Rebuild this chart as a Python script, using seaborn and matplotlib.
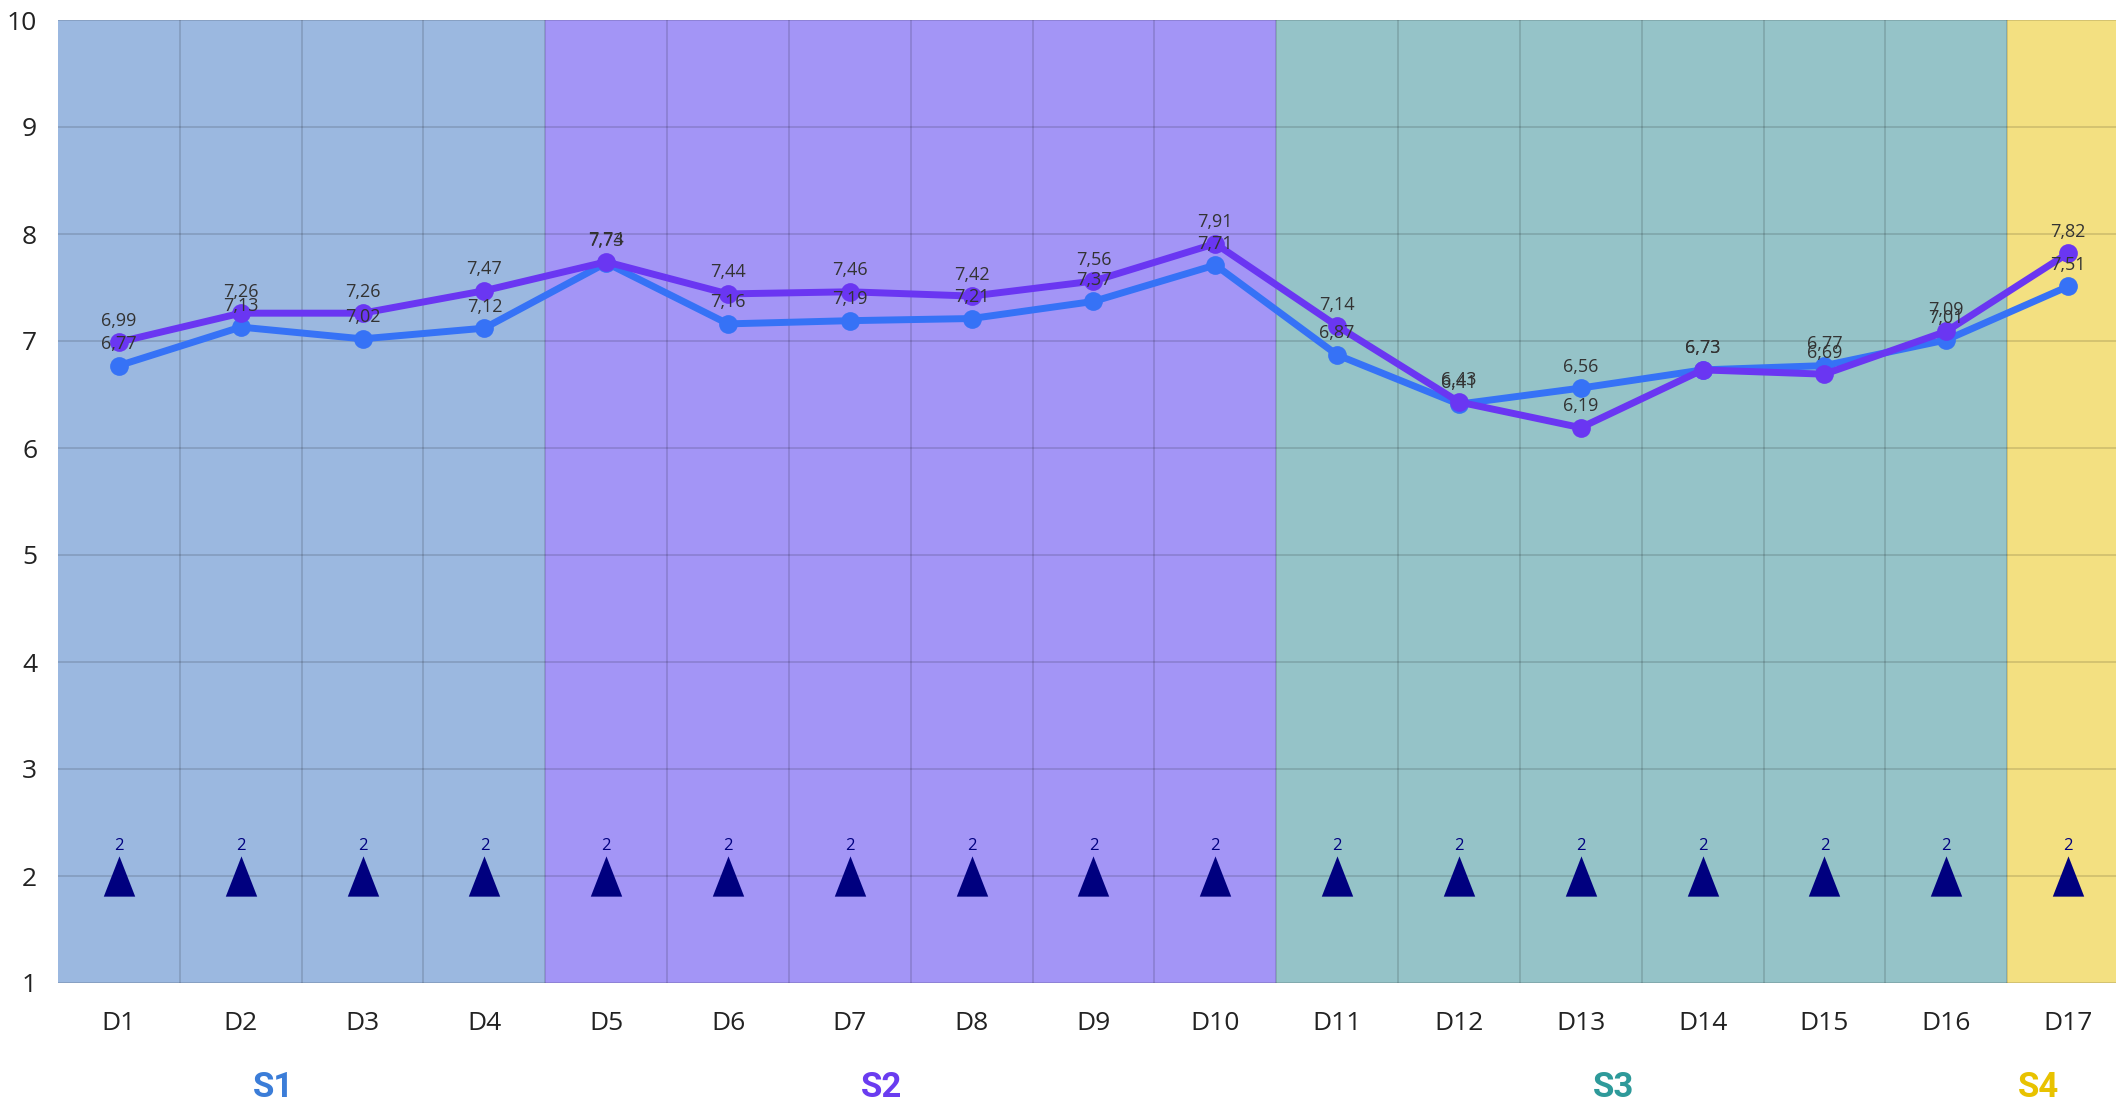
import matplotlib
matplotlib.use("Agg")
import matplotlib.pyplot as plt
import seaborn as sns
import pandas as pd
import numpy as np
from matplotlib.markers import MarkerStyle

# Data
days = ["D1", "D2", "D3", "D4", "D5", "D6", "D7", "D8", "D9", "D10",
        "D11", "D12", "D13", "D14", "D15", "D16", "D17"]
series_purple = [6.99, 7.26, 7.26, 7.47, 7.74, 7.44, 7.46, 7.42, 7.56, 7.91,
                 7.14, 6.43, 6.19, 6.73, 6.69, 7.09, 7.82]
series_blue = [6.77, 7.13, 7.02, 7.12, 7.73, 7.16, 7.19, 7.21, 7.37, 7.71,
               6.87, 6.41, 6.56, 6.73, 6.77, 7.01, 7.51]
counts = [2] * 17
sections = ["S1", "S2", "S3", "S4"]
section_sizes = [4, 6, 6, 1]

# Styles
sns.set_style("white")
plt.rcParams['font.family'] = ['Open Sans', 'DejaVu Sans']
bg_colours = ["#9bb8e0", "#a395f6", "#95c3c8", "#f3e081"]
label_colours = ["#3b7dd8", "#6a3cf0", "#2e9a9a", "#e8c200"]
purple = "#6a36f2"
blue = "#3672f6"
navy = "#00007f"
text_col = "#333333"

df = pd.DataFrame({"day": days, "pos": np.arange(len(days)),
                   "purple": series_purple, "blue": series_blue, "count": counts})

fig = plt.figure(figsize=(21.16, 11.02), dpi=100)
# the last band runs a little past the right edge of the figure, as in the original
ax = fig.add_axes([58 / 2116, 1 - 983 / 1102, 2071 / 2116, (983 - 20) / 1102])

# section backgrounds
start = -0.5
for size, col in zip(section_sizes, bg_colours):
    ax.axvspan(start, start + size, color=col, lw=0, zorder=0)
    start += size

# lines
sns.lineplot(data=df, x="pos", y="blue", color=blue, linewidth=5, marker="o",
             markersize=13.5, markeredgewidth=0, ax=ax, zorder=3)
sns.lineplot(data=df, x="pos", y="purple", color=purple, linewidth=5, marker="o",
             markersize=13.5, markeredgewidth=0, ax=ax, zorder=4)

# triangles
tri = MarkerStyle([(-0.78, -1), (0.78, -1), (0, 1)])
sns.scatterplot(data=df, x="pos", y="count", marker=tri, s=29 ** 2, color=navy,
                linewidth=0, ax=ax, zorder=5)


def fmt(v):
    return f"{v:.2f}".rstrip("0").rstrip(".").replace(".", ",")


for p, v in zip(df["pos"], df["blue"]):
    ax.annotate(fmt(v), (p, v), xytext=(0, 9), textcoords="offset points",
                ha="center", va="bottom", fontsize=13, color=text_col, zorder=6)
for p, v in zip(df["pos"], df["purple"]):
    ax.annotate(fmt(v), (p, v), xytext=(0, 9), textcoords="offset points",
                ha="center", va="bottom", fontsize=13, color=text_col, zorder=6)
for p, v in zip(df["pos"], df["count"]):
    ax.annotate(str(v), (p, v), xytext=(0, 16), textcoords="offset points",
                ha="center", va="bottom", fontsize=12, color=navy, zorder=6)

# axes
ax.set_xlim(-0.5, len(days) - 0.5)
ax.set_ylim(1, 10)
ax.set_yticks(range(1, 11))
ax.set_xticks(df["pos"])
ax.set_xticklabels(days)
ax.set_xticks(np.arange(0.5, len(days) - 0.5), minor=True)
ax.set_axisbelow("line")
ax.grid(axis="y", which="major", color="black", alpha=0.15, lw=1.2)
ax.grid(axis="x", which="minor", color="black", alpha=0.15, lw=1.2)
ax.grid(axis="x", which="major", visible=False)
ax.tick_params(axis="both", which="both", length=0)
ax.tick_params(axis="x", pad=20, labelsize=19, colors="#222222")
ax.tick_params(axis="y", pad=15, labelsize=19, colors="#222222")
ax.set_xlabel("")
ax.set_ylabel("")
for s in ax.spines.values():
    s.set_visible(False)

# section labels under the axis
label_x = [1.27, 6.26, 12.27, 15.76]
for name, x, col in zip(sections, label_x, label_colours):
    ax.annotate(name, xy=(x, 0), xycoords=("data", "axes fraction"),
                xytext=(0, -75), textcoords="offset points", ha="center", va="center",
                fontsize=25, fontweight="bold", color=col,
                family=["Liberation Sans Narrow", "Roboto", "DejaVu Sans"])

plt.savefig("out.png", dpi=100)
